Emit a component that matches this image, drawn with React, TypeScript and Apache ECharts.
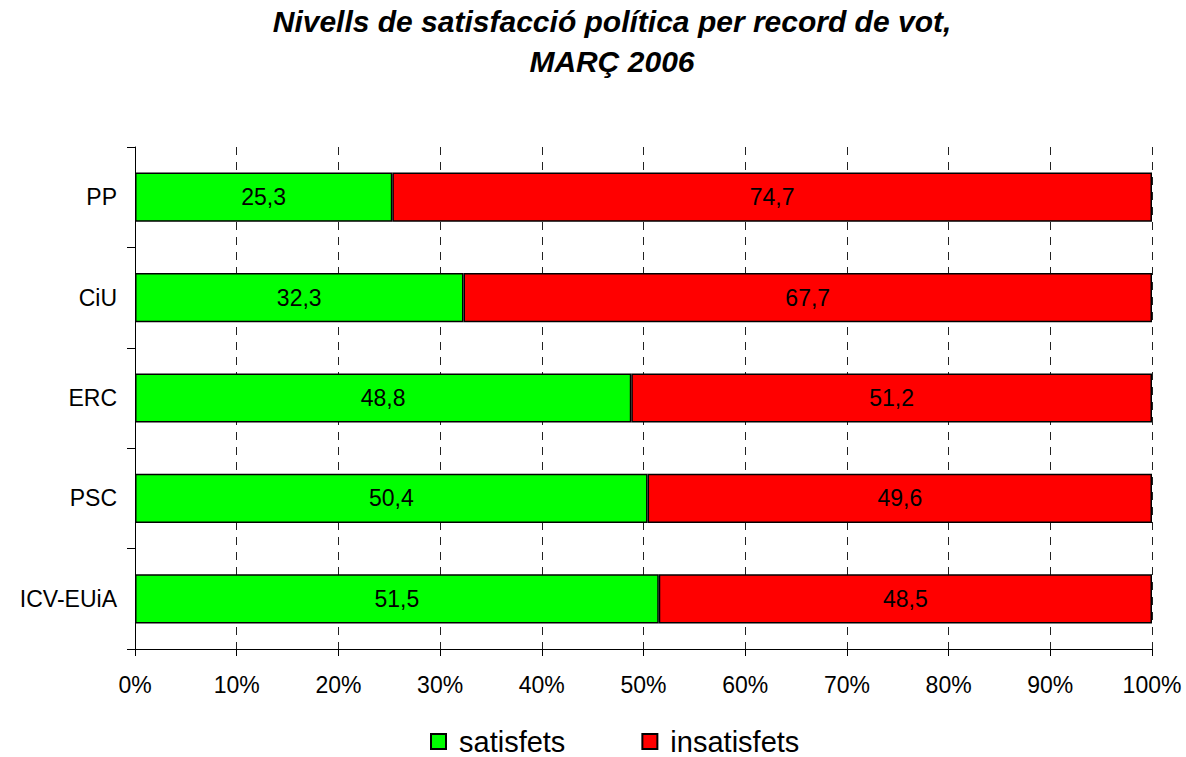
import React, { useEffect, useRef } from "react";
import * as echarts from "echarts";

const categories = ["PP", "CiU", "ERC", "PSC", "ICV-EUiA"];
const satisfets = [25.3, 32.3, 48.8, 50.4, 51.5];
const insatisfets = [74.7, 67.7, 51.2, 49.6, 48.5];
const seriesNames = ["satisfets", "insatisfets"];
const titleText = "Nivells de satisfacció política per record de vot,\nMARÇ 2006";

const FONT = "'Liberation Sans', Arial, Helvetica, sans-serif";

export default function App() {
  const ref = useRef<HTMLDivElement>(null);
  useEffect(() => {
    if (!ref.current) return;
    const chart = echarts.init(ref.current, null, { renderer: "svg" });
    const fmt = (p: any) => String(p.value).replace(".", ",");
    chart.setOption({
      animation: false,
      backgroundColor: "#fff",
      textStyle: { fontFamily: FONT },
      title: {
        text: titleText,
        left: 607,
        top: -4,
        padding: [5, 5, 5, 5],
        textAlign: "center",
        textStyle: {
          fontFamily: FONT,
          fontSize: 30,
          fontWeight: "bold",
          fontStyle: "italic",
          color: "#000",
          lineHeight: 40,
        },
      },
      legend: {
        data: seriesNames,
        left: 430,
        top: 727,
        padding: 0,
        icon: "rect",
        itemWidth: 15,
        itemHeight: 15,
        itemGap: 76,
        textStyle: {
          fontFamily: FONT,
          fontSize: 29,
          lineHeight: 29,
          color: "#000",
          padding: [0, 0, 0, 8],
        },
      },
      grid: { left: 135, right: 34, top: 147, bottom: 108, containLabel: false },
      xAxis: {
        type: "value",
        min: 0,
        max: 100,
        interval: 10,
        axisLine: { show: true, lineStyle: { color: "#000", width: 1 } },
        axisTick: { show: true, length: 7, lineStyle: { color: "#000" } },
        axisLabel: {
          formatter: "{value}%",
          fontFamily: FONT,
          fontSize: 23,
          color: "#000",
          margin: 24,
        },
        splitLine: {
          show: true,
          lineStyle: { color: "#222", width: 1, type: [8, 7] },
        },
      },
      yAxis: {
        type: "category",
        data: categories,
        inverse: true,
        axisLine: { show: true, lineStyle: { color: "#000", width: 1 } },
        axisTick: { show: true, length: 8, lineStyle: { color: "#000" } },
        axisLabel: {
          fontFamily: FONT,
          fontSize: 23,
          color: "#000",
          margin: 18,
        },
        splitLine: { show: false },
      },
      series: [
        {
          name: seriesNames[0],
          type: "bar",
          stack: "total",
          data: satisfets,
          barWidth: "49%",
          itemStyle: { color: "#00FF00", borderColor: "#000", borderWidth: 1.5 },
          label: {
            show: true,
            position: "inside",
            formatter: fmt,
            fontFamily: FONT,
            fontSize: 23,
            color: "#000",
          },
        },
        {
          name: seriesNames[1],
          type: "bar",
          stack: "total",
          data: insatisfets,
          barWidth: "49%",
          itemStyle: { color: "#FF0000", borderColor: "#000", borderWidth: 1.5 },
          label: {
            show: true,
            position: "inside",
            formatter: fmt,
            fontFamily: FONT,
            fontSize: 23,
            color: "#000",
          },
        },
      ],
    });
    return () => chart.dispose();
  }, []);
  return (
    <div
      ref={ref}
      style={{ position: "fixed", left: 0, top: 0, width: 1186, height: 757, background: "#fff" }}
    />
  );
}
